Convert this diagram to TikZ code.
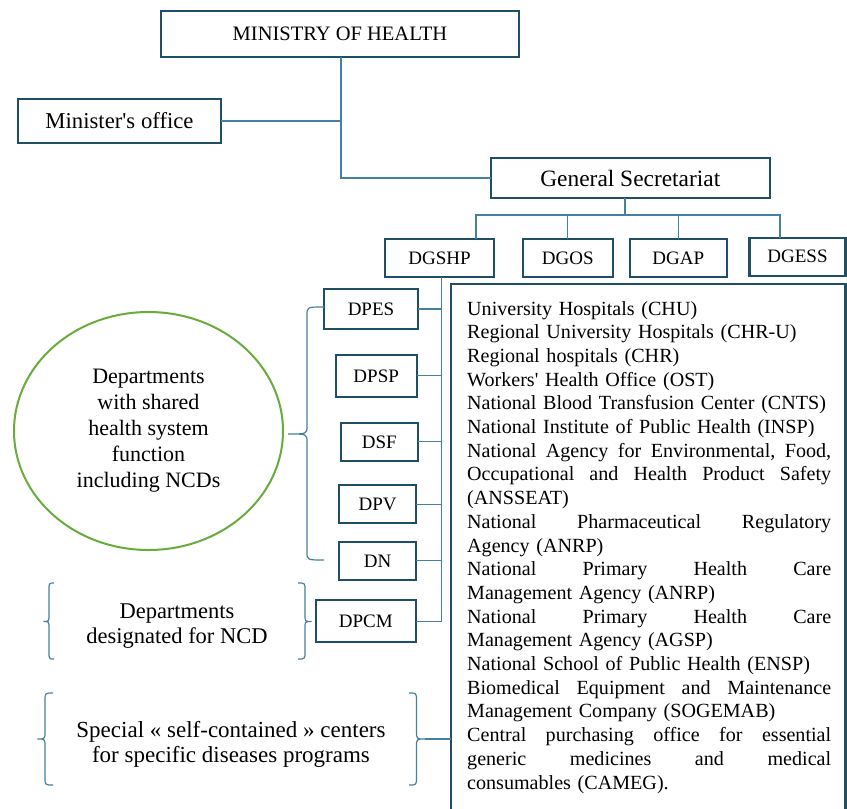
\documentclass[tikz,border=0pt]{standalone}
\usepackage{fontspec}
\setmainfont{Liberation Serif}
\usetikzlibrary{shapes.geometric}
\definecolor{boxc}{RGB}{31,78,102}
\definecolor{linec}{RGB}{70,128,160}
\definecolor{greenc}{RGB}{104,172,62}
\tikzset{
  box/.style={draw=boxc, line width=2.2pt, inner sep=0pt, outer sep=0pt, fill=white},
  conn/.style={draw=linec, line width=1.3pt},
  brc/.style={draw=linec, line width=1.2pt},
  fcap/.style={font=\fontsize{19}{22}\selectfont},
  fmoh/.style={font=\fontsize{20.5}{24}\selectfont},
  fbig/.style={font=\fontsize{22.7}{26}\selectfont},
  fgs/.style={font=\fontsize{23.4}{26}\selectfont},
  flist/.style={font=\fontsize{20.1}{23.7}\selectfont},
  fell/.style={font=\fontsize{22}{26}\selectfont},
  fside/.style={font=\fontsize{22.5}{25}\selectfont},
  fspec/.style={font=\fontsize{23}{25}\selectfont},
}
\newcommand{\mybrace}[7]{\draw[brc] (#1,#4) .. controls (#2,#4) .. (#2,#4+#7) -- (#2,#6-#7) .. controls (#2,#6) .. (#3,#6) .. controls (#2,#6) .. (#2,#6+#7) -- (#2,#5-#7) .. controls (#2,#5) .. (#1,#5);}
\newcommand{\jline}[1]{\leavevmode\hbox to 364pt{#1}}
\begin{document}
\begin{tikzpicture}[x=1pt,y=-1pt]
\useasboundingbox (0,0) rectangle (847,809);
\clip (0,0) rectangle (847,809);
\fill[white] (0,0) rectangle (847,809);

% top boxes
\node[box, fmoh, minimum width=358pt, minimum height=46pt] (moh) at (340,34) {MINISTRY OF HEALTH};
\node[box, fbig, minimum width=203pt, minimum height=44pt] (mo) at (119.5,121) {Minister\textquotesingle s office};
\node[box, fgs, minimum width=279pt, minimum height=40pt] (gs) at (630.3,178) {General Secretariat};

\node[box, fcap, minimum width=109pt, minimum height=38pt] (dgshp) at (439.5,258) {DGSHP};
\node[box, fcap, minimum width=90pt, minimum height=38pt] (dgos) at (567.8,258) {DGOS};
\node[box, fcap, minimum width=96.7pt, minimum height=38pt] (dgap) at (678.3,258) {DGAP};
\node[box, fcap, minimum width=96pt, minimum height=38pt] (dgess) at (797.5,256.7) {DGESS};

% big list box
\node[box, minimum width=394.5pt, minimum height=600pt, anchor=north west] (bigbox) at (451,284) {};
\node[flist, text width=376pt, align=left, inner sep=0pt, anchor=base west] (list) at (467,315) {%
University Hospitals (CHU)\\
Regional University Hospitals (CHR-U)\\
Regional hospitals (CHR)\\
Workers\textquotesingle\ Health Office (OST)\\
National Blood Transfusion Center (CNTS)\\
National Institute of Public Health (INSP)\\
\jline{National\hfill Agency\hfill for\hfill Environmental,\hfill Food,}\\
\jline{Occupational\hfill and\hfill Health\hfill Product\hfill Safety}\\
(ANSSEAT)\\
\jline{National\hfill Pharmaceutical\hfill Regulatory}\\
Agency (ANRP)\\
\jline{National\hfill Primary\hfill Health\hfill Care}\\
Management Agency (ANRP)\\
\jline{National\hfill Primary\hfill Health\hfill Care}\\
Management Agency (AGSP)\\
National School of Public Health (ENSP)\\
\jline{Biomedical\hfill Equipment\hfill and\hfill Maintenance}\\
Management Company (SOGEMAB)\\
\jline{Central\hfill purchasing\hfill office\hfill for\hfill essential}\\
\jline{generic\hfill medicines\hfill and\hfill medical}\\
consumables (CAMEG).};

% department boxes
\node[box, fcap, minimum width=94pt, minimum height=40pt] (dpes) at (371,309) {DPES};
\node[box, fcap, minimum width=81pt, minimum height=41.7pt] (dpsp) at (376.2,375.8) {DPSP};
\node[box, fcap, minimum width=76.7pt, minimum height=38.3pt] (dsf) at (379.3,441.8) {DSF};
\node[box, fcap, minimum width=76.7pt, minimum height=38.3pt] (dpv) at (377.7,504.2) {DPV};
\node[box, fcap, minimum width=76.7pt, minimum height=38.3pt] (dn) at (377.7,560.8) {DN};
\node[box, fcap, minimum width=99.7pt, minimum height=42.3pt] (dpcm) at (365.8,621.2) {DPCM};

% ellipse
\node[draw=greenc, line width=2pt, ellipse, minimum width=269pt, minimum height=238pt, inner sep=0pt, align=center, fell] (ell) at (148.5,431)
  {Departments\\with shared\\health system\\function\\including NCDs};

% side texts
\node[fside, align=center] (t1) at (177,626) {Departments\\designated for NCD};
\node[fspec, align=center] (t2) at (231,744) {Special « self-contained » centers\\for specific diseases programs};

% connectors
\coordinate (msp) at (341,0);
\draw[conn] (moh.south -| msp) |- (gs.west);
\draw[conn] (mo.east) -- (mo.east -| msp);
\coordinate (gsx) at (625,198);
\coordinate (bus1) at (476,215);
\coordinate (bus2) at (780,215);
\draw[conn] (gsx) -- (gsx |- bus1);
\draw[conn] (bus1 |- dgshp.north) -- (bus1) -- (bus2) -- (bus2 |- dgess.north);
\draw[conn] (dgos.north) -- (dgos.north |- bus1);
\draw[conn] (dgap.north) -- (dgap.north |- bus1);

\coordinate (sp) at (441.7,0);
\draw[conn] (sp |- dgshp.south) -- (sp |- dpcm.east);
\foreach \n in {dpes,dpsp,dsf,dpv,dn,dpcm}{
  \draw[conn] (\n.east) -- (\n.east -| sp);
}

% braces
\mybrace{324}{307}{288}{307}{560}{434}{8}
\mybrace{54}{49}{43.5}{583}{659}{621.5}{7}
\mybrace{298}{305}{311.5}{583}{659}{621.5}{7}
\mybrace{53}{45}{37.5}{693}{785}{739}{8}
\mybrace{409}{416.5}{425}{693}{785}{739}{8}
\coordinate (br3) at (425,739);
\draw[conn] (br3) -- (br3 -| bigbox.west);
\end{tikzpicture}
\end{document}
